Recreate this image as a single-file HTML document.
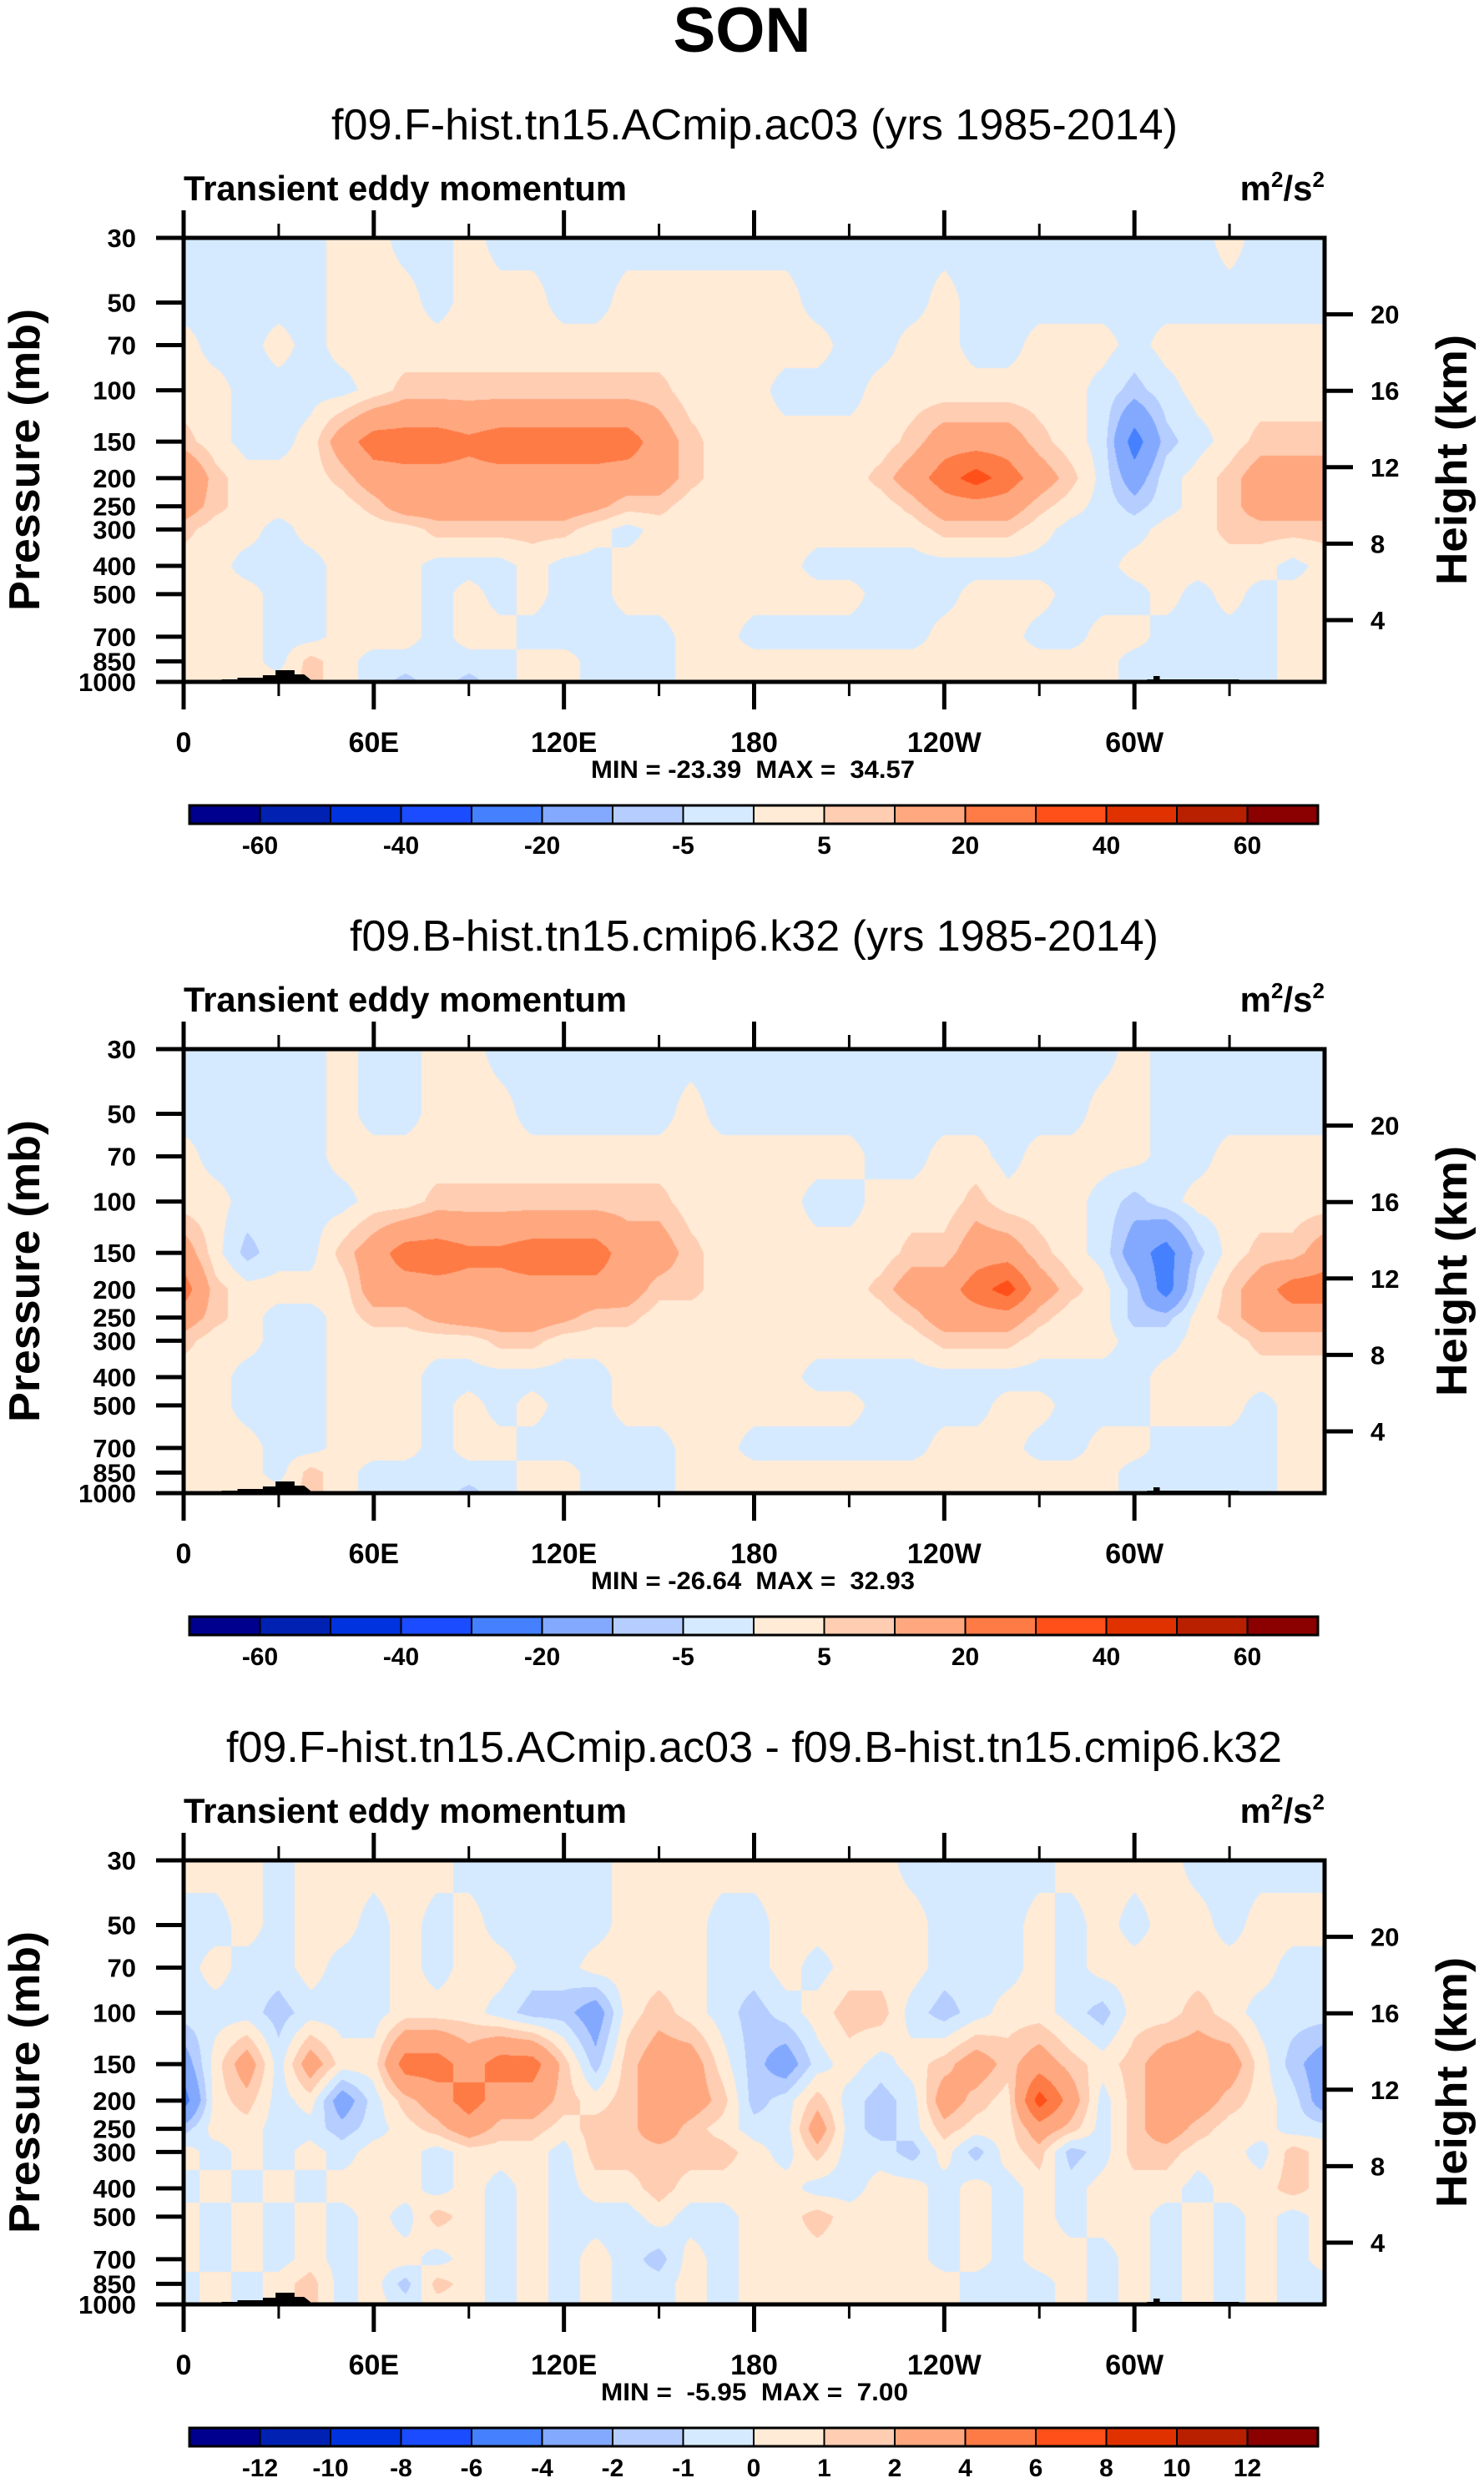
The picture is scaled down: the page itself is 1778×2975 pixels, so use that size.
<!DOCTYPE html>
<html><head><meta charset="utf-8">
<style>
html,body{margin:0;padding:0;background:#fff;}
#wrap{position:relative;width:1778px;height:2975px;overflow:hidden;background:#fff;}
canvas{position:absolute;}
svg{position:absolute;left:0;top:0;}
text{font-family:"Liberation Sans",sans-serif;white-space:pre;}
</style></head>
<body>
<div id="wrap">
<canvas id="c1" width="1367" height="532" style="left:220px;top:285px"></canvas>
<canvas id="c2" width="1367" height="532" style="left:220px;top:1257px"></canvas>
<canvas id="c3" width="1367" height="532" style="left:220px;top:2229px"></canvas>
<svg id="ov" width="1778" height="2975" xmlns="http://www.w3.org/2000/svg">
<text x="889" y="62" text-anchor="middle" font-size="76" font-weight="bold" textLength="165" lengthAdjust="spacingAndGlyphs">SON</text>
</svg>
</div>
<script>
const LEVELS=[30,50,70,100,150,200,250,300,400,500,700,850,1000];
const LONS=[0,10,20,30,40,50,60,70,80,90,100,110,120,130,140,150,160,170,180,190,200,210,220,230,240,250,260,270,280,290,300,310,320,330,340,350,360];
const XTICK_LABELS=["0","60E","120E","180","120W","60W"];
const XTICK_LONS=[0,60,120,180,240,300];
const KM_TICKS=[4,8,12,16,20];
const CB_BOUNDS_A=[-60,-50,-40,-30,-20,-10,-5,0,5,10,20,30,40,50,60];
const CB_BOUNDS_B=[-12,-10,-8,-6,-4,-2,-1,0,1,2,4,6,8,10,12];
const COLORS=['#00008e','#0021b2','#0033e0','#1b4cff','#4580ff','#83a9ff','#b5cdff','#d6eaff','#ffebd6','#ffcdb2','#ffa880','#ff7b46','#ff5019','#e03200','#b82000','#8b0000'];

const a1_030=[-2,-2,-2,-2,-2,2,2,-2,-2,2,-2,-2,-2,-2,-2,-2,-2,-2,-2,-2,-2,-2,-2,-2,-2,-2,-2,-2,-2,-2,-2,-2,-2,2,-2,-2,-2];
const a1_050=[-2,-2,-2,-2,-2,2,2,2,-2,2,2,2,-2,-2,2,2,2,2,2,2,-2,-2,-2,-2,2,-2,-2,-2,-2,-2,-2,-2,-2,-2,-2,-2,-2];
const a1_070=[2,-2,-2,2,-2,2,2,2,2,2,2,2,2,2,2,2,2,2,2,2,2,-2,-2,2,2,-2,-2,2,2,2,-2,2,2,2,2,2,2];
const a1_100=[2,2,-2,-2,-2,-2,2,7,7,7,7,7,7,7,7,7,2,2,2,-2,-2,-2,2,2,2,2,2,2,2,-2,-7,-2,2,2,2,2,2];
const a1_150=[7,2,-2,-2,2,15,25,25,25,22,25,25,25,25,25,15,7,2,2,2,2,2,2,7,15,15,15,7,2,-2,-25,-7,-2,2,7,7,7];
const a1_200=[21,7,2,2,2,7,15,17,17,17,17,17,17,17,15,15,7,2,2,2,2,2,7,15,25,35,25,15,7,-2,-15,-2,2,7,15,15,15];
const a1_250=[15,7,2,2,2,2,7,15,15,15,15,15,15,12,7,7,2,2,2,2,2,2,2,7,15,15,15,7,2,-2,-7,-2,2,7,15,15,15];
const a1_300=[7,2,2,-2,2,2,2,2,7,7,7,7,7,2,-2,2,2,2,2,2,2,2,2,2,7,7,7,2,-2,-2,-2,2,2,7,7,7,7];
const a1_400=[2,2,-2,-2,-2,2,2,2,-2,-2,-2,2,-2,-2,2,2,2,2,2,2,-2,-2,-2,-2,-2,-2,-2,-2,-2,-2,2,2,2,2,2,-2,2];
const a1_500=[2,2,2,-2,-2,2,2,2,-2,2,-2,2,-2,-2,2,2,2,2,2,2,2,2,-2,-2,-2,2,2,2,-2,-2,-2,2,-2,2,-2,2,2];
const a1_700=[2,2,2,-2,-2,2,2,2,-2,2,2,-2,-2,-2,-2,-2,2,2,-2,-2,-2,-2,-2,-2,2,2,2,-2,-2,2,2,-2,-2,-2,-2,2,2];
const a1_850=[2,2,2,-2,7,2,-2,-2,-2,-2,-2,2,2,-2,-2,-2,2,2,2,2,2,2,2,2,2,2,2,2,2,2,-2,-2,-2,-2,-2,2,2];
const a1_1000=[2,2,2,2,7,2,-2,-7,-2,-7,-2,2,2,-2,-2,-2,2,2,2,2,2,2,2,2,2,2,2,2,2,2,-2,-2,-2,-2,-2,2,2];

const a2_030=[-2,-2,-2,-2,-2,2,-2,-2,2,2,-2,-2,-2,-2,-2,-2,-2,-2,-2,-2,-2,-2,-2,-2,-2,-2,-2,-2,-2,-2,2,-2,-2,-2,-2,-2,-2];
const a2_050=[-2,-2,-2,-2,-2,2,-2,-2,2,2,2,-2,-2,-2,-2,-2,2,-2,-2,-2,-2,-2,-2,-2,-2,-2,-2,-2,-2,2,2,-2,-2,-2,-2,-2,-2];
const a2_070=[2,-2,-2,-2,-2,2,2,2,2,2,2,2,2,2,2,2,2,2,2,2,2,2,-2,-2,2,2,-2,2,2,2,2,-2,-2,2,2,2,2];
const a2_100=[2,2,-2,-2,-2,-2,2,2,7,7,7,7,7,7,7,7,2,2,2,2,-2,-2,2,2,2,7,2,2,2,-2,-7,-2,2,2,2,2,2];
const a2_150=[15,2,-7,-2,-2,7,15,25,25,22,22,25,25,25,15,15,7,2,2,2,2,2,2,7,7,15,15,7,2,-2,-15,-25,-7,2,7,7,15];
const a2_200=[25,7,2,2,2,2,15,15,17,17,17,17,17,17,15,7,7,2,2,2,2,2,7,15,15,25,35,15,7,2,-7,-25,-2,7,15,25,25];
const a2_250=[15,7,2,-2,-2,2,7,7,12,15,15,15,12,7,7,2,2,2,2,2,2,2,2,7,15,15,15,7,2,2,-7,-7,2,7,15,15,15];
const a2_300=[7,2,2,-2,-2,2,2,2,2,2,7,7,2,2,2,2,2,2,2,2,2,2,2,2,7,7,7,2,2,2,-2,-2,2,2,7,7,7];
const a2_400=[2,2,-2,-2,-2,2,2,2,-2,-2,-2,-2,-2,-2,2,2,2,2,2,2,-2,-2,-2,-2,-2,-2,-2,-2,-2,-2,-2,2,2,2,2,2,2];
const a2_500=[2,2,-2,-2,-2,2,2,2,-2,2,-2,2,-2,-2,2,2,2,2,2,2,2,2,-2,-2,-2,-2,2,2,-2,-2,-2,2,2,2,-2,2,2];
const a2_700=[2,2,2,-2,-2,2,2,2,-2,2,2,-2,-2,-2,-2,-2,2,2,-2,-2,-2,-2,-2,-2,2,2,2,-2,-2,2,2,-2,-2,-2,-2,2,2];
const a2_850=[2,2,2,-2,7,2,-2,-2,-2,-2,-2,2,2,-2,-2,-2,2,2,2,2,2,2,2,2,2,2,2,2,2,2,-2,-2,-2,-2,-2,2,2];
const a2_1000=[2,2,2,2,7,2,-2,-2,-2,-7,-2,2,2,-2,-2,-2,2,2,2,2,2,2,2,2,2,2,2,2,2,2,-2,-2,-2,-2,-2,2,2];

const a3_030=[0.5,0.5,0.5,-0.5,0.5,0.5,0.5,0.5,0.5,-0.5,-0.5,-0.5,-0.5,-0.5,0.5,0.5,0.5,0.5,0.5,0.5,0.5,0.5,0.5,-0.5,-0.5,-0.5,-0.5,-0.5,0.5,0.5,0.5,0.5,-0.5,-0.5,-0.5,-0.5,-0.5];
const a3_050=[-0.5,-0.5,0.5,-0.5,0.5,0.5,-0.5,0.5,-0.5,0.5,-0.5,-0.5,-0.5,-0.5,0.5,0.5,0.5,-0.5,-0.5,0.5,0.5,0.5,0.5,0.5,-0.5,-0.5,-0.5,0.5,-0.5,0.5,-0.5,0.5,0.5,-0.5,0.5,0.5,0.5];
const a3_070=[-0.5,0.5,-0.5,-0.5,0.5,-0.5,-0.5,0.5,-0.5,0.5,0.5,-0.5,-0.5,0.5,0.5,0.5,0.5,-0.5,-0.5,0.5,-0.5,0.5,0.5,0.5,-0.5,-0.5,-0.5,0.5,-0.5,0.5,0.5,0.5,0.5,0.5,0.5,-0.5,-0.5];
const a3_100=[-0.5,-0.5,-0.5,-1.5,-0.5,-0.5,-0.5,0.5,0.5,0.5,-0.5,-1.5,-1.5,-3,0.5,1.5,0.5,-0.5,-1.5,-0.5,0.5,1.5,1.5,-0.5,-1.5,-0.5,0.5,0.5,-0.5,-1.5,0.5,0.5,1.5,0.5,-0.5,-0.5,-0.5];
const a3_150=[-3,0.5,3,-0.5,3,0.5,0.5,5,5,3,5,5,1.5,-1.5,1.5,3,3,0.5,-1.5,-3,-0.5,0.5,-0.5,0.5,1.5,3,1.5,3,1.5,0.5,1.5,3,3,3,0.5,-1.5,-3];
const a3_200=[-5,0.5,1.5,-0.5,0.5,-3,-0.5,1.5,3,5,3,3,1.5,0.5,1.5,3,3,1.5,-1.5,-0.5,1.5,-0.5,-1.5,-0.5,3,1.5,0.5,7,3,-0.5,1.5,3,3,1.5,0.5,-0.5,-3];
const a3_250=[-1.5,0.5,0.5,-0.5,-0.5,-1.5,-0.5,0.5,1.5,3,1.5,1.5,0.5,1.5,1.5,3,1.5,0.5,-0.5,-0.5,3,-0.5,-1.5,-0.5,1.5,0.5,0.5,3,1.5,-0.5,1.5,3,1.5,0.5,0.5,-0.5,-0.5];
const a3_300=[0.5,-0.5,0.5,-0.5,0.5,-0.5,0.5,0.5,-0.5,0.5,0.5,0.5,-0.5,1.5,1.5,1.5,1.5,1.5,0.5,-0.5,1.5,-0.5,-0.5,-1.5,0.5,-1.5,0.5,1.5,-1.5,-0.5,1.5,1.5,0.5,0.5,-0.5,1.5,0.5];
const a3_400=[-0.5,0.5,-0.5,0.5,-0.5,0.5,0.5,0.5,-0.5,0.5,-0.5,0.5,-0.5,0.5,0.5,1.5,0.5,0.5,0.5,0.5,-0.5,-0.5,0.5,0.5,-0.5,0.5,-0.5,0.5,-0.5,0.5,0.5,0.5,-0.5,0.5,0.5,1.5,0.5];
const a3_500=[0.5,-0.5,0.5,-0.5,0.5,-0.5,0.5,-0.5,1.5,0.5,-0.5,0.5,-0.5,-0.5,-0.5,0.5,-0.5,-0.5,0.5,0.5,1.5,0.5,0.5,0.5,-0.5,0.5,-0.5,0.5,-0.5,0.5,0.5,-0.5,0.5,-0.5,0.5,-0.5,0.5];
const a3_700=[0.5,-0.5,0.5,-0.5,0.5,-0.5,0.5,0.5,-0.5,0.5,-0.5,0.5,-0.5,0.5,-0.5,-1.5,0.5,-0.5,0.5,0.5,0.5,0.5,0.5,0.5,-0.5,0.5,-0.5,0.5,0.5,-0.5,0.5,-0.5,0.5,-0.5,0.5,-0.5,0.5];
const a3_850=[-0.5,0.5,-0.5,0.5,1.5,-0.5,0.5,-1.5,1.5,0.5,-0.5,0.5,-0.5,0.5,-0.5,-0.5,0.5,-0.5,0.5,0.5,0.5,0.5,0.5,0.5,0.5,-0.5,-0.5,-0.5,0.5,-0.5,0.5,-0.5,0.5,-0.5,0.5,-0.5,-0.5];
const a3_1000=[-0.5,0.5,-0.5,0.5,1.5,-0.5,0.5,-0.5,0.5,0.5,-0.5,0.5,-0.5,0.5,-0.5,-0.5,0.5,-0.5,0.5,0.5,0.5,0.5,0.5,0.5,0.5,-0.5,-0.5,-0.5,0.5,-0.5,0.5,-0.5,0.5,-0.5,0.5,-0.5,-0.5];

const TITLES=["f09.F-hist.tn15.ACmip.ac03 (yrs 1985-2014)","f09.B-hist.tn15.cmip6.k32 (yrs 1985-2014)","f09.F-hist.tn15.ACmip.ac03 - f09.B-hist.tn15.cmip6.k32"];
const MINMAX=["MIN = -23.39  MAX =  34.57","MIN = -26.64  MAX =  32.93","MIN =  -5.95  MAX =  7.00"];

const X0=220, W=1367, H=532, TOPS=[285,1257,2229];
const LN=Math.log(1000/30);
function xOfLon(l){return X0+W*l/360;}
function yOfP(top,p){return top+H*Math.log(p/30)/LN;}
function yOfKm(top,z){return top+458-(z-4)*22.9;}

const GRIDS=[
 [a1_030,a1_050,a1_070,a1_100,a1_150,a1_200,a1_250,a1_300,a1_400,a1_500,a1_700,a1_850,a1_1000],
 [a2_030,a2_050,a2_070,a2_100,a2_150,a2_200,a2_250,a2_300,a2_400,a2_500,a2_700,a2_850,a2_1000],
 [a3_030,a3_050,a3_070,a3_100,a3_150,a3_200,a3_250,a3_300,a3_400,a3_500,a3_700,a3_850,a3_1000]];
const BOUNDS=[CB_BOUNDS_A,CB_BOUNDS_A,CB_BOUNDS_B];

function hex(c){return [parseInt(c.substr(1,2),16),parseInt(c.substr(3,2),16),parseInt(c.substr(5,2),16)];}
const RGB=COLORS.map(hex);
function cls(v,b){let i=0;while(i<b.length&&v>=b[i])i++;return i;}
function val(row,j){let v=row[j];if(v===undefined)v=row[row.length-1];return v;}

function drawField(k){
  const cv=document.getElementById('c'+(k+1)); const ctx=cv.getContext('2d');
  const img=ctx.createImageData(W,H); const g=GRIDS[k]; const b=BOUNDS[k];
  const lyr=LEVELS.map(p=>H*Math.log(p/30)/LN);
  const rowI=[],rowT=[];
  for(let py=0;py<H;py++){const y=py+0.5;let i=0;while(i<lyr.length-2&&y>lyr[i+1])i++;rowI.push(i);rowT.push(Math.min(1,Math.max(0,(y-lyr[i])/(lyr[i+1]-lyr[i]))));}
  const colI=[],colT=[];
  for(let px=0;px<W;px++){const l=(px+0.5)/W*360;let j=Math.min(LONS.length-2,Math.floor(l/10));colI.push(j);colT.push((l-LONS[j])/(LONS[j+1]-LONS[j]));}
  for(let py=0;py<H;py++){const i=rowI[py],t=rowT[py];const r0=g[i],r1=g[i+1];
    for(let px=0;px<W;px++){const j=colI[px],s=colT[px];
      const v=(1-t)*((1-s)*val(r0,j)+s*val(r0,j+1))+t*((1-s)*val(r1,j)+s*val(r1,j+1));
      const c=RGB[cls(v,b)];const o=(py*W+px)*4;img.data[o]=c[0];img.data[o+1]=c[1];img.data[o+2]=c[2];img.data[o+3]=255;}}
  ctx.putImageData(img,0,0);
}
[0,1,2].forEach(drawField);

const NS='http://www.w3.org/2000/svg'; const ov=document.getElementById('ov');
function mk(tag,attrs){const e=document.createElementNS(NS,tag);for(const a in attrs)e.setAttribute(a,attrs[a]);ov.appendChild(e);return e;}
function txt(s,attrs){const e=mk('text',attrs);e.textContent=s;return e;}

const TITLE_W=[[397,1411],[419,1388],[271,1536]];
const MM_W=[[708,1096],[708,1096],[720,1088]];
TOPS.forEach((top,k)=>{
  const off=top-285;
  let e;
  e=txt(TITLES[k],{x:(TITLE_W[k][0]+TITLE_W[k][1])/2,y:167+off,'text-anchor':'middle','font-size':52,textLength:TITLE_W[k][1]-TITLE_W[k][0],lengthAdjust:'spacingAndGlyphs'});
  
  
  e=txt('Transient eddy momentum',{x:220,y:240+off,'font-size':42,'font-weight':'bold',textLength:531,lengthAdjust:'spacingAndGlyphs'});
  
  
  e=mk('text',{x:1587,y:240+off,'text-anchor':'end','font-size':42,'font-weight':'bold'});
  e.innerHTML='m<tspan dy="-16" font-size="26">2</tspan><tspan dy="16">/s</tspan><tspan dy="-16" font-size="26">2</tspan>';
  
  
  const gnd=mk('path',{d:`M${xOfLon(12)},${top+H} L${xOfLon(12)},${top+H-3} L${xOfLon(17)},${top+H-3} L${xOfLon(17)},${top+H-5} L${xOfLon(25)},${top+H-5} L${xOfLon(25)},${top+H-8} L${xOfLon(29)},${top+H-8} L${xOfLon(29)},${top+H-14} L${xOfLon(35)},${top+H-14} L${xOfLon(35)},${top+H-9} L${xOfLon(38)},${top+H-9} L${xOfLon(40)},${top+H-3} L${xOfLon(40)},${top+H} Z M${xOfLon(304)},${top+H} L${xOfLon(304)},${top+H-3} L${xOfLon(306)},${top+H-3} L${xOfLon(306)},${top+H-7} L${xOfLon(308)},${top+H-7} L${xOfLon(308)},${top+H-3} L${xOfLon(333)},${top+H-3} L${xOfLon(333)},${top+H} Z`,fill:'#000'});
  
  
  const fr=mk('rect',{x:X0,y:top,width:W,height:H,fill:'none',stroke:'#000','stroke-width':5});
  
  
  for(let l=0;l<360;l+=30){const major=(l%60===0);const len=major?33:17;const x=xOfLon(l);
    e=mk('line',{x1:x,y1:top,x2:x,y2:top-len,stroke:'#000','stroke-width':major?5:3});
    
    
    e=mk('line',{x1:x,y1:top+H,x2:x,y2:top+H+len,stroke:'#000','stroke-width':major?5:3});
    
    }
  XTICK_LONS.forEach((l,i)=>{e=txt(XTICK_LABELS[i],{x:xOfLon(l),y:901+off,'text-anchor':'middle','font-size':34,'font-weight':'bold'});
    
    });
  LEVELS.forEach(p=>{const y=yOfP(top,p);
    e=mk('line',{x1:X0,y1:y,x2:X0-33,y2:y,stroke:'#000','stroke-width':5});
    
    
    e=txt(String(p),{x:163,y:y+11,'text-anchor':'end','font-size':31,'font-weight':'bold'});
    
    });
  KM_TICKS.forEach(z=>{const y=yOfKm(top,z);
    e=mk('line',{x1:X0+W,y1:y,x2:X0+W+34,y2:y,stroke:'#000','stroke-width':5});
    
    
    e=txt(String(z),{x:1642,y:y+11,'font-size':31,'font-weight':'bold'});
    
    });
  e=txt('Pressure (mb)',{x:0,y:0,'text-anchor':'middle','font-size':52,'font-weight':'bold',transform:`translate(47,${top+H/2}) rotate(-90)`,textLength:362,lengthAdjust:'spacingAndGlyphs'});
  
  
  e=txt('Height (km)',{x:0,y:0,'text-anchor':'middle','font-size':52,'font-weight':'bold',transform:`translate(1757,${top+H/2}) rotate(-90)`,textLength:300,lengthAdjust:'spacingAndGlyphs'});
  
  
  e=txt(MINMAX[k],{x:(MM_W[k][0]+MM_W[k][1])/2,y:932+off,'text-anchor':'middle','font-size':30,'font-weight':'bold',textLength:MM_W[k][1]-MM_W[k][0],lengthAdjust:'spacingAndGlyphs','xml:space':'preserve'});
  
  
  const cbx=227,cbw=(1579-227)/16,cby=965+off;
  COLORS.forEach((c,i)=>{e=mk('rect',{x:cbx+i*cbw,y:cby,width:cbw,height:22,fill:c,stroke:'#000','stroke-width':2});
    
    });
  e=mk('rect',{x:cbx,y:cby,width:cbw*16,height:22,fill:'none',stroke:'#000','stroke-width':3});
  
  
  const bb=BOUNDS[k];
  bb.forEach((v,i)=>{if(k<2&&i%2===1)return;
    e=txt(String(v),{x:cbx+(i+1)*cbw,y:cby+58,'text-anchor':'middle','font-size':30,'font-weight':'bold'});
    
    });
});
</script>
</body></html>
